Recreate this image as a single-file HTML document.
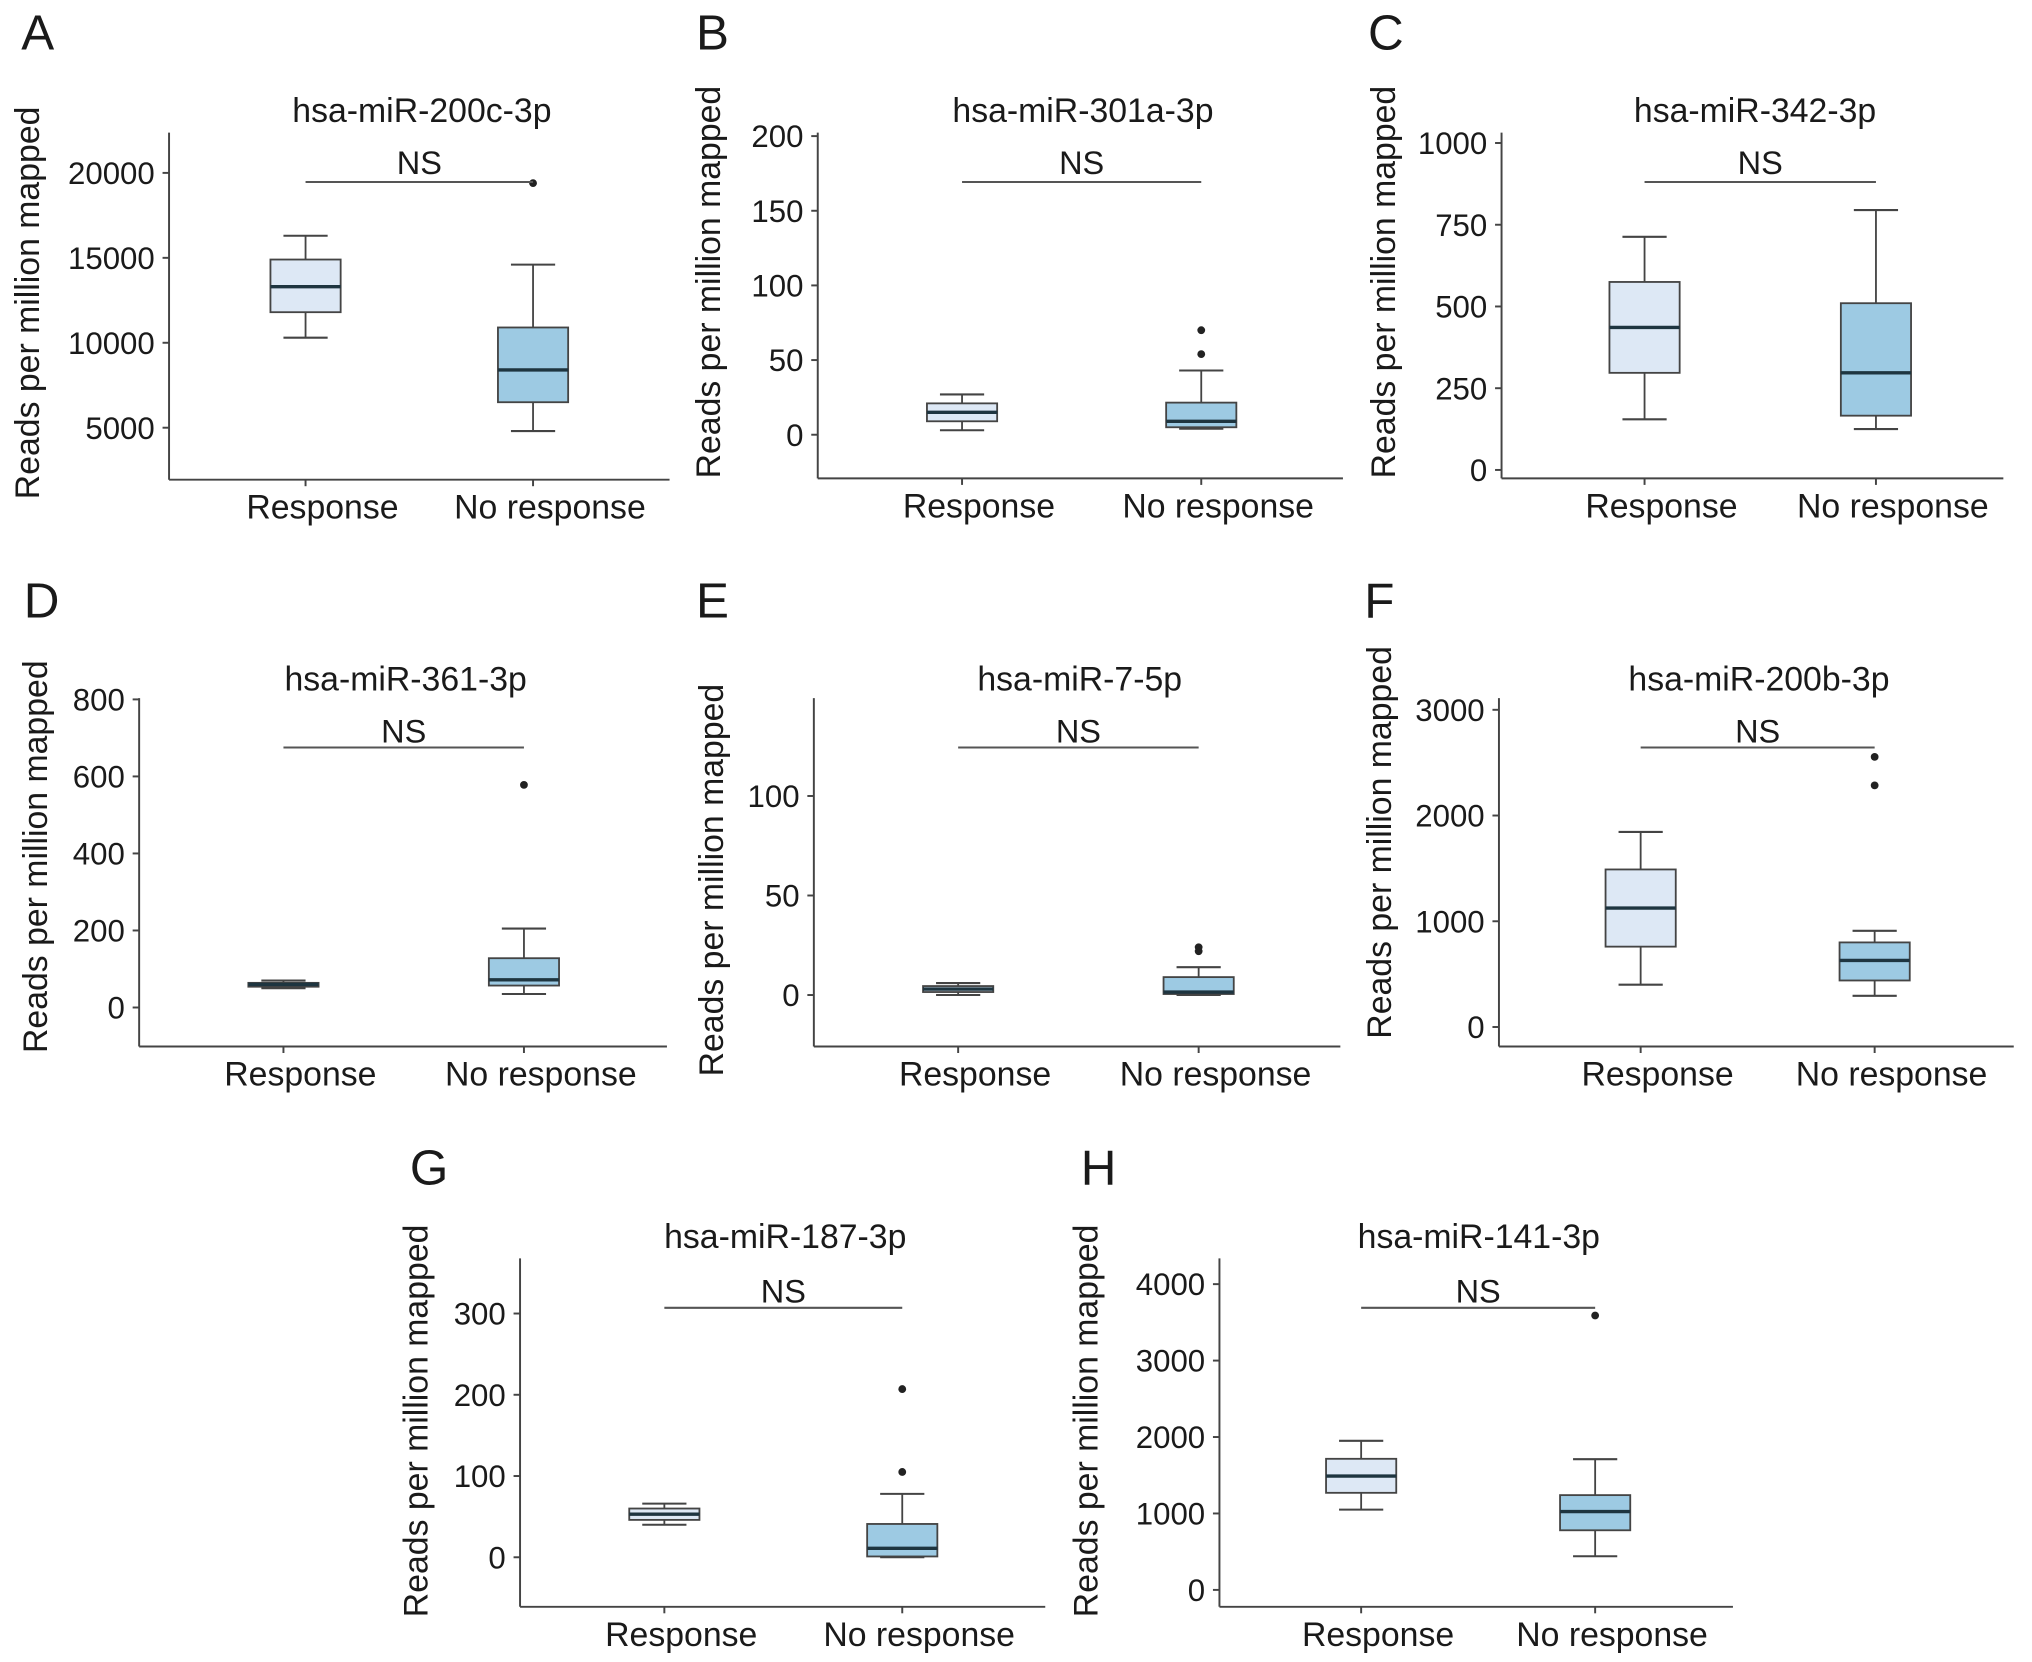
<!DOCTYPE html>
<html><head><meta charset="utf-8"><style>
html,body{margin:0;padding:0;background:#fff}
svg{display:block}
text{font-family:"Liberation Sans",Arial,sans-serif;fill:#1a1a1a}
</style></head><body>
<svg id="fig" xmlns="http://www.w3.org/2000/svg" width="2032" height="1662" viewBox="0 0 1563 1278.46"></svg>
<script>
// ---- data: [min, q1, median, q3, max] ----
const categories = ["Response", "No response"];
const titles = ["hsa-miR-200c-3p","hsa-miR-301a-3p","hsa-miR-342-3p","hsa-miR-361-3p","hsa-miR-7-5p","hsa-miR-200b-3p","hsa-miR-187-3p","hsa-miR-141-3p"];
const letters = ["A","B","C","D","E","F","G","H"];
const respA = [10300, 11800, 13300, 14900, 16300];
const noA = [4800, 6500, 8400, 10900, 14600];
const outA = [19400];
const ticksA = [5000, 10000, 15000, 20000];
const respB = [3, 9, 15, 21, 27];
const noB = [4, 5, 9, 21.5, 43];
const outB = [54, 70];
const ticksB = [0, 50, 100, 150, 200];
const respC = [155, 297, 436, 575, 713];
const noC = [125, 166, 297, 510, 795];
const outC = [];
const ticksC = [0, 250, 500, 750, 1000];
const respD = [50, 54, 60, 64, 70];
const noD = [35, 57, 72, 128, 205];
const outD = [578];
const ticksD = [0, 200, 400, 600, 800];
const respE = [0, 1.5, 3, 4.5, 6];
const noE = [0, 0.5, 1.5, 9, 14];
const outE = [22, 24];
const ticksE = [0, 50, 100];
const respF = [400, 760, 1125, 1490, 1845];
const noF = [295, 440, 630, 800, 910];
const outF = [2285, 2555];
const ticksF = [0, 1000, 2000, 3000];
const respG = [40, 46, 53, 60, 66];
const noG = [0, 1, 11, 41, 78];
const outG = [105, 207];
const ticksG = [0, 100, 200, 300];
const respH = [1050, 1270, 1490, 1715, 1950];
const noH = [440, 780, 1025, 1240, 1710];
const outH = [3590];
const ticksH = [0, 1000, 2000, 3000, 4000];

const dataSets = [
 [respA,noA,outA,ticksA],[respB,noB,outB,ticksB],[respC,noC,outC,ticksC],[respD,noD,outD,ticksD],
 [respE,noE,outE,ticksE],[respF,noF,outF,ticksF],[respG,noG,outG,ticksG],[respH,noH,outH,ticksH]];

const layout = [
 {ax:130,top:102,bot:369,right:515,c1:235,c2:410,v0:5000,p0:329,v1:20000,p1:133,lx:29,ly:24,ylx:21,yly:233,ty:85,nsy:125,liney:140},
 {ax:629,top:102,bot:368,right:1033,c1:740,c2:924,v0:0,p0:334.4,v1:200,p1:104.7,lx:548,ly:24,ylx:545,yly:217,ty:85,nsy:125,liney:140},
 {ax:1155,top:102,bot:368,right:1541,c1:1265,c2:1443,v0:0,p0:361.5,v1:1000,p1:110,lx:1066,ly:24,ylx:1064,yly:217,ty:85,nsy:125,liney:140},
 {ax:107,top:537,bot:805,right:513,c1:218,c2:403,v0:0,p0:775,v1:800,p1:538,lx:32,ly:461,ylx:27,yly:659,ty:522,nsy:562,liney:575},
 {ax:626,top:537,bot:805,right:1031,c1:737,c2:922,v0:0,p0:765.4,v1:100,p1:612.3,lx:548,ly:461,ylx:547,yly:677,ty:522,nsy:562,liney:575},
 {ax:1153,top:537,bot:805,right:1549,c1:1262,c2:1442,v0:0,p0:790,v1:3000,p1:546,lx:1061,ly:461,ylx:1061,yly:648,ty:522,nsy:562,liney:575},
 {ax:400,top:968,bot:1236,right:804,c1:511,c2:694,v0:0,p0:1197.9,v1:300,p1:1010.4,lx:330,ly:897,ylx:320,yly:1093,ty:951,nsy:993,liney:1006},
 {ax:938,top:968,bot:1236,right:1333,c1:1047,c2:1227,v0:0,p0:1223,v1:4000,p1:987.8,lx:845,ly:897,ylx:835,yly:1093,ty:951,nsy:993,liney:1006}
];
const fills = ["#dde8f5", "#9dcae3"];
const NS = "http://www.w3.org/2000/svg";
const svg = document.getElementById('fig');
function mk(tag, attrs, parent, txt){
  const e = document.createElementNS(NS, tag);
  for (const k in attrs) e.setAttribute(k, attrs[k]);
  if (txt !== undefined) e.textContent = txt;
  parent.appendChild(e);
  return e;
}
layout.forEach((L, i) => {
  const [resp, no, outs, ticks] = dataSets[i];
  const y = v => L.p0 + (v - L.v0) * (L.p1 - L.p0) / (L.v1 - L.v0);
  const g = mk('g', {}, svg);
  
  
  const lt = mk('text', {x:L.lx, y:L.ly+14, 'font-size':38, 'text-anchor':'middle'}, g, letters[i]);
  
  
  const tt = mk('text', {x:(L.ax+L.right)/2 + 2, y:L.ty+9, 'font-size':26, 'text-anchor':'middle'}, g, titles[i]);
  
  
  const yl = mk('text', {x:0, y:0, 'font-size':26, 'text-anchor':'middle', transform:`translate(${L.ylx+9},${L.yly}) rotate(-90)`}, g, 'Reads per million mapped');
  
  
  const ya = mk('line', {x1:L.ax, y1:L.top, x2:L.ax, y2:L.bot, stroke:'#444', 'stroke-width':1.5}, g);
  
  
  const xa = mk('line', {x1:L.ax, y1:L.bot, x2:L.right, y2:L.bot, stroke:'#444', 'stroke-width':1.5}, g);
  
  
  ticks.forEach(t => {
    const ty = y(t);
    mk('line', {x1:L.ax-5, y1:ty, x2:L.ax, y2:ty, stroke:'#444', 'stroke-width':1.5}, g);
    const tl = mk('text', {x:L.ax-11, y:ty+8.5, 'font-size':24, 'text-anchor':'end'}, g, String(t));
    
    
  });
  const rowLabelY = L.bot + 30;
  [L.c1, L.c2].forEach((cx, k) => {
    mk('line', {x1:cx, y1:L.bot, x2:cx, y2:L.bot+5, stroke:'#444', 'stroke-width':1.5}, g);
    const cl = mk('text', {x:cx+13, y:rowLabelY, 'font-size':26, 'text-anchor':'middle'}, g, categories[k]);
    
    
    const d = k === 0 ? resp : no;
    const bg = mk('g', {}, g);
    
    
    const bw = 27, cw = 17;
    mk('line', {x1:cx, y1:y(d[0]), x2:cx, y2:y(d[1]), stroke:'#444', 'stroke-width':1.4}, bg);
    mk('line', {x1:cx, y1:y(d[3]), x2:cx, y2:y(d[4]), stroke:'#444', 'stroke-width':1.4}, bg);
    mk('line', {x1:cx-cw, y1:y(d[0]), x2:cx+cw, y2:y(d[0]), stroke:'#444', 'stroke-width':1.6}, bg);
    mk('line', {x1:cx-cw, y1:y(d[4]), x2:cx+cw, y2:y(d[4]), stroke:'#444', 'stroke-width':1.6}, bg);
    mk('rect', {x:cx-bw, y:y(d[3]), width:2*bw, height:Math.max(1, y(d[1])-y(d[3])), fill:fills[k], stroke:'#444', 'stroke-width':1.4}, bg);
    mk('line', {x1:cx-bw, y1:y(d[2]), x2:cx+bw, y2:y(d[2]), stroke:'#1e3540', 'stroke-width':2.6}, bg);
    if (k === 1) outs.forEach(o => {
      const c = mk('circle', {cx:cx, cy:y(o), r:3, fill:'#222'}, g);
      
      
    });
  });
  const nl = mk('line', {x1:L.c1, y1:L.liney, x2:L.c2, y2:L.liney, stroke:'#555', 'stroke-width':1.6}, g);
  
  
  const ns = mk('text', {x:(L.c1+L.c2)/2, y:L.nsy+9, 'font-size':25, 'text-anchor':'middle'}, g, 'NS');
  
  
});
</script>
</body></html>
